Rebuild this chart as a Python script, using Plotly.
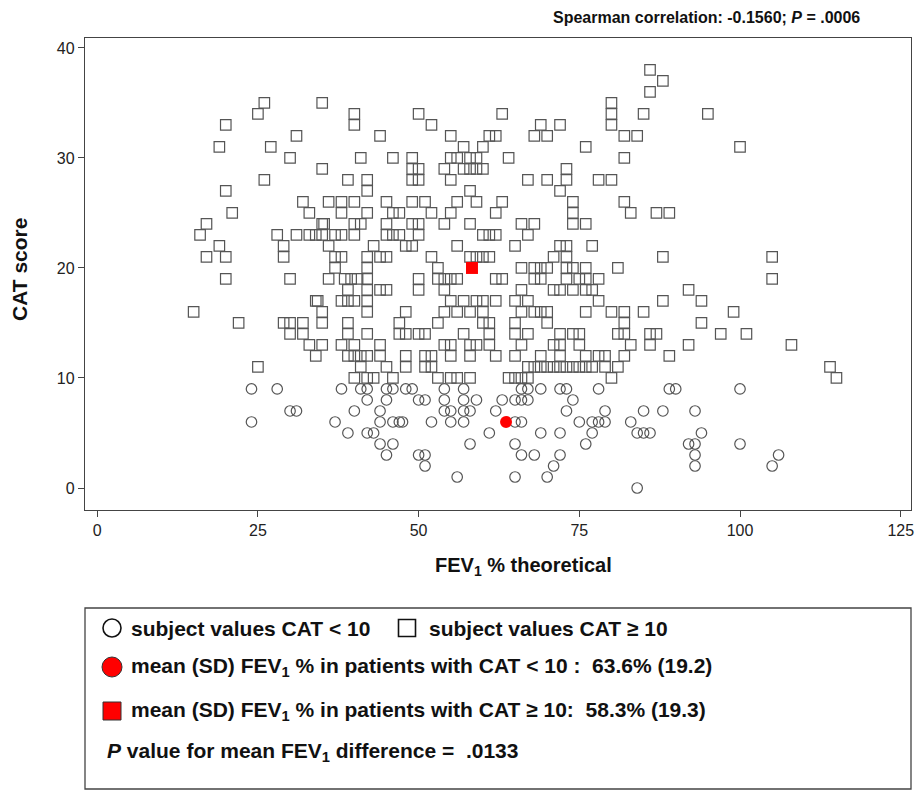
import plotly.graph_objects as go

# ---- data ----
square_cat = [38, 37, 36, 35, 34, 33, 32, 31, 30, 29, 28, 27, 26, 25, 24, 23, 22, 21,
              20, 19, 18, 17, 16, 15, 14, 13, 12, 11, 10]
square_fev = [
    [86],
    [88],
    [86],
    [26, 35, 80],
    [25, 40, 50, 63, 80, 85, 95],
    [20, 40, 52, 69, 72, 80],
    [31, 44, 55, 61, 62, 68, 70, 82, 84],
    [19, 27, 57, 60, 76, 100],
    [30, 41, 46, 49, 55, 56, 58, 59, 64, 82],
    [35, 49, 50, 54, 57, 58, 59, 60, 73],
    [26, 39, 42, 49, 50, 55, 67, 70, 73, 78, 80],
    [20, 42, 58, 72],
    [32, 36, 38, 40, 45, 49, 51, 56, 59, 63, 74, 82],
    [21, 33, 38, 42, 46, 47, 52, 55, 62, 74, 83, 87, 89],
    [17, 35, 35.3, 40, 41, 45, 49, 50, 54, 58, 66, 68, 74, 76],
    [16, 28, 31, 33, 34, 35, 37, 38, 40, 45, 46, 47, 50, 60, 61, 62, 67],
    [19, 29, 36, 43, 48, 49, 56, 65, 72, 73, 77],
    [17, 20, 29, 37, 38, 42, 44, 45, 52, 58, 59, 60, 61, 71, 73, 88, 105],
    [37, 42, 53, 66, 68, 69, 70, 73, 74, 76, 81],
    [20, 30, 36, 38.5, 39.5, 40.5, 42, 50, 53, 54, 55, 56, 62, 63, 68, 69, 73, 75, 76, 78, 105],
    [39, 42, 44, 45, 50, 54, 66, 71, 72, 74, 76, 77, 92],
    [34, 34.3, 38, 39, 40, 42, 55, 57, 59, 60, 62, 65, 67, 78, 88, 94],
    [15, 35, 42, 48, 54, 56, 58, 60, 66, 68, 69, 70, 76, 80, 82, 85, 99],
    [22, 29, 30, 32, 35, 39, 47, 53, 60, 61, 65, 70, 82, 94],
    [30, 32, 39, 42, 47, 48, 50, 51, 57, 61, 65, 67, 72, 74, 75, 81, 82, 86, 87, 97, 101],
    [33, 35, 38, 40, 44, 54, 55, 58, 59, 61, 66, 71, 72, 75, 83, 86, 92, 108],
    [34, 39, 40, 41, 42, 44, 48, 51, 52, 55, 58, 62, 65, 69, 72, 76, 78, 79, 82, 89],
    [25, 41, 45, 48, 51, 52, 67, 68, 69, 70, 71, 72, 73, 74, 75, 76, 77, 79, 81, 114],
    [40, 42, 43, 46, 53, 55, 56, 58, 64, 65, 66, 67, 80, 115],
]

circle_cat = [9, 8, 7, 6, 5, 4, 3, 2, 1, 0]
circle_fev = [
    [24, 28, 38, 41, 42, 45, 46, 48, 49, 54, 57, 66, 67, 69, 72, 73, 78, 89, 90, 100],
    [42, 45, 50, 51, 54, 57, 59, 63, 65, 66, 67, 74],
    [30, 31, 40, 44, 54, 55, 57, 58, 62, 73, 79, 85, 88, 93],
    [24, 37, 44, 46, 47, 47.5, 52, 55, 57, 65, 66, 75, 77, 78, 79, 83],
    [39, 42, 43, 61, 69, 72, 77, 84, 85, 86, 94],
    [44, 46, 58, 65, 76, 92, 93, 100],
    [45, 50, 51, 66, 68, 72, 93, 106],
    [51, 71, 93, 105],
    [56, 65, 70],
    [84],
]

mean_fev_lo, mean_cat_lo = 63.6, 6.0
mean_fev_hi, mean_cat_hi = 58.3, 20.0

x_ticks = [0, 25, 50, 75, 100, 125]
y_ticks = [0, 10, 20, 30, 40]

# expand rows into x/y pairs
sq_x, sq_y = [], []
for c, row in zip(square_cat, square_fev):
    sq_x += row
    sq_y += [c] * len(row)
ci_x, ci_y = [], []
for c, row in zip(circle_cat, circle_fev):
    ci_x += row
    ci_y += [c] * len(row)

FONT = "Liberation Sans, Arial, sans-serif"
W, H = 919, 796
# layout targets (window coordinates)
S_LEFT, S_RIGHT, S_TOP, S_PLOT_BOTTOM = 85, 911, 38, 510
S_LEG_TOP, S_LEG_BOTTOM = 608, 789

ML = S_LEFT
MR = W - S_RIGHT
MT = S_TOP
MB = H - S_LEG_BOTTOM
PH = H - MT - MB
PW = W - ML - MR


def py(sy):  # window y -> paper
    return ((H - MB) - sy) / PH


def pxx(sx):  # window x -> paper
    return (sx - ML) / PW


fig = go.Figure()

mk_line = dict(color="#555555", width=1.2)
fig.add_trace(go.Scatter(x=sq_x, y=sq_y, mode="markers",
                         marker=dict(symbol="square-open", size=10.5, color="#555555", line=mk_line),
                         showlegend=False, hoverinfo="x+y"))
fig.add_trace(go.Scatter(x=ci_x, y=ci_y, mode="markers",
                         marker=dict(symbol="circle-open", size=10.5, color="#555555", line=mk_line),
                         showlegend=False, hoverinfo="x+y"))
fig.add_trace(go.Scatter(x=[mean_fev_hi], y=[mean_cat_hi], mode="markers",
                         marker=dict(symbol="square", size=12, color="#ff0000"),
                         showlegend=False))
fig.add_trace(go.Scatter(x=[mean_fev_lo], y=[mean_cat_lo], mode="markers",
                         marker=dict(symbol="circle", size=12, color="#ff0000"),
                         showlegend=False))

# legend panel drawn on a helper axis in window-pixel coordinates
leg_rows_y = [628, 667, 711]
fig.add_trace(go.Scatter(x=[112], y=[leg_rows_y[0]], xaxis="x2", yaxis="y2", mode="markers",
                         marker=dict(symbol="circle-open", size=18, color="#111",
                                     line=dict(color="#111", width=1.6)),
                         showlegend=False, hoverinfo="skip"))
fig.add_trace(go.Scatter(x=[407], y=[leg_rows_y[0]], xaxis="x2", yaxis="y2", mode="markers",
                         marker=dict(symbol="square-open", size=17, color="#111",
                                     line=dict(color="#111", width=1.6)),
                         showlegend=False, hoverinfo="skip"))
fig.add_trace(go.Scatter(x=[112], y=[leg_rows_y[1]], xaxis="x2", yaxis="y2", mode="markers",
                         marker=dict(symbol="circle", size=20, color="#ff0000",
                                     line=dict(color="#333", width=1)),
                         showlegend=False, hoverinfo="skip"))
fig.add_trace(go.Scatter(x=[112], y=[leg_rows_y[2]], xaxis="x2", yaxis="y2", mode="markers",
                         marker=dict(symbol="square", size=18, color="#ff0000",
                                     line=dict(color="#333", width=1)),
                         showlegend=False, hoverinfo="skip"))

legend_texts = [
    (129, 628, "<b>subject values CAT &lt; 10</b>"),
    (427, 628, "<b>subject values CAT ≥ 10</b>"),
    (129, 667, "<b>mean (SD) FEV<sub>1</sub> % in patients with CAT &lt; 10 : &nbsp;63.6% (19.2)</b>"),
    (129, 711, "<b>mean (SD) FEV<sub>1</sub> % in patients with CAT ≥ 10: &nbsp;58.3% (19.3)</b>"),
    (105, 752, "<b><i>P</i> value for mean FEV<sub>1</sub> difference = &nbsp;.0133</b>"),
]
annotations = []
for x, y, t in legend_texts:
    annotations.append(dict(x=x, y=y, xref="x2", yref="y2", text=t, showarrow=False,
                            xanchor="left", yanchor="middle",
                            font=dict(family=FONT, size=21, color="#111")))

annotations += [
    dict(x=pxx(862), y=py(18), xref="paper", yref="paper",
         text="<b>Spearman correlation: -0.1560; <i>P</i> = .0006</b>",
         showarrow=False, xanchor="right", yanchor="middle",
         font=dict(family=FONT, size=16, color="#111")),
    dict(x=pxx(523), y=py(566), xref="paper", yref="paper",
         text="<b>FEV<sub>1</sub> % theoretical</b>",
         showarrow=False, xanchor="center", yanchor="middle",
         font=dict(family=FONT, size=20, color="#111")),
    dict(x=pxx(19), y=py(270), xref="paper", yref="paper",
         text="<b>CAT score</b>", textangle=-90,
         showarrow=False, xanchor="center", yanchor="middle",
         font=dict(family=FONT, size=21, color="#111")),
]

axis_common = dict(ticks="outside", ticklen=6, tickcolor="#444", showgrid=False,
                   zeroline=False, showline=True, mirror=True, linecolor="#444",
                   linewidth=1.3, ticklabeloverflow="allow",
                   tickfont=dict(family=FONT, size=16, color="#222"))

fig.update_layout(
    width=W, height=H,
    margin=dict(l=ML, r=MR, t=MT, b=MB, autoexpand=False),
    paper_bgcolor="white", plot_bgcolor="white",
    font=dict(family=FONT, size=14, color="#222"),
    xaxis=dict(range=[-1.9, 126.6], tickvals=x_ticks, anchor="y", **axis_common),
    yaxis=dict(range=[-2.0, 40.9], tickvals=y_ticks, domain=[py(S_PLOT_BOTTOM), 1],
               anchor="x", **axis_common),
    xaxis2=dict(range=[S_LEFT, S_RIGHT], visible=False, anchor="y2", domain=[0, 1]),
    yaxis2=dict(range=[S_LEG_BOTTOM, S_LEG_TOP], visible=False, anchor="x2",
                domain=[0, py(S_LEG_TOP)]),
    annotations=annotations,
    shapes=[dict(type="rect", xref="paper", yref="paper", x0=0, x1=1, y0=0,
                 y1=py(S_LEG_TOP), line=dict(color="#444", width=1.3),
                 fillcolor="rgba(0,0,0,0)")],
)

fig.write_html(
    "out.html",
    config={"displayModeBar": False},
    post_script="document.body.style.margin='0';document.body.style.overflow='hidden';",
)
